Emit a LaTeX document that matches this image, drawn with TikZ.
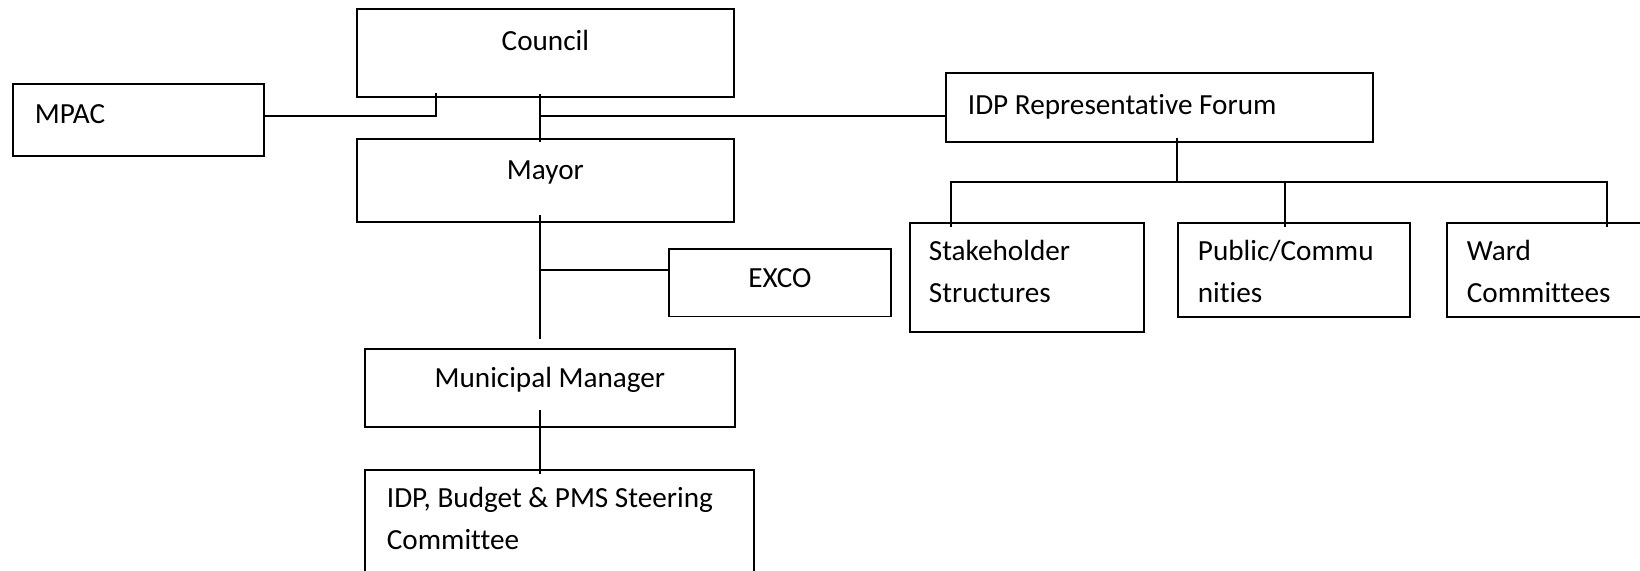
\documentclass[tikz,border=0pt]{standalone}
\usepackage{fontspec}
\setmainfont{Carlito}[Ligatures=NoCommon]

\begin{document}
\begin{tikzpicture}[x=0.5pt, y=-0.5pt, line width=0.9pt,
    nodes={draw, rectangle, anchor=north west, inner ysep=0pt, font=\fontsize{14.6}{21}\selectfont,
      execute at begin node={\spaceskip=0pt\xspaceskip=0pt}},
    mid/.style={inner xsep=0pt, align=flush center},
    side/.style={inner xsep=#1, align=flush left}, side/.default=11pt]

    \clip (0,0) rectangle (1640,570);
    \fill[white] (0,0) rectangle (1640,570);

    \node[mid, text width=188.5pt, text height=21pt, text depth=23pt] (council) at (356,8) {Council};
    \node[side, text width=103.5pt, text height=20pt, text depth=16pt] (mpac) at (12,83) {MPAC};
    \node[mid, text width=188.5pt, text height=20.5pt, text depth=21pt] (mayor) at (356,138) {Mayor};
    \node[side, text width=191.5pt, text height=21pt, text depth=13.5pt] (forum) at (945,71.7) {IDP Representative Forum};
    \node[mid, text width=111pt, text height=19.3pt, text depth=14.5pt] (exco) at (668,248) {EXCO};
    \node[side=9.5pt, text width=98pt, text height=19pt, text depth=35.5pt] (stake) at (909,221.7) {Stakeholder\\Structures};
    \node[side=10pt, text width=96pt, text height=19pt, text depth=28pt] (public) at (1177,221.7) {Public/Commu\\nities};
    \node[side=10pt, text width=96pt, text height=19pt, text depth=28pt] (ward) at (1446,221.7) {Ward\\Committees};
    \node[mid, text width=185pt, text height=19.3pt, text depth=19.7pt] (manager) at (364,348) {Municipal Manager};
    \node[side, text width=172.5pt, text height=19pt, text depth=33pt] (steering) at (364,468.7) {IDP, Budget \& PMS Steering\\Committee};

    \coordinate (cs) at (436,93);
    \coordinate (ct) at (540,94);
    \coordinate (jc) at (540,116);
    \coordinate (mt) at (540,142);
    \coordinate (mb) at (540,215);
    \coordinate (je) at (540,270);
    \coordinate (me) at (540,339);
    \coordinate (mm) at (540,410);
    \coordinate (st) at (540,474);
    \coordinate (fb) at (1177,138);
    \coordinate (bus) at (1177,181.7);
    \coordinate (s1) at (951,226.7);
    \coordinate (s2) at (1285,226.7);
    \coordinate (s3) at (1607,226.7);

    \draw (mpac.east |- jc) -| (cs);
    \draw (ct) -- (mt);
    \draw (jc) -- (jc -| forum.west);
    \draw (mb) -- (me);
    \draw (je) -- (je -| exco.west);
    \draw (mm) -- (st);
    \draw (fb) -- (bus);
    \draw (s1) |- (bus) -| (s3);
    \draw (s2) -- (s2 |- bus);
\end{tikzpicture}
\end{document}
